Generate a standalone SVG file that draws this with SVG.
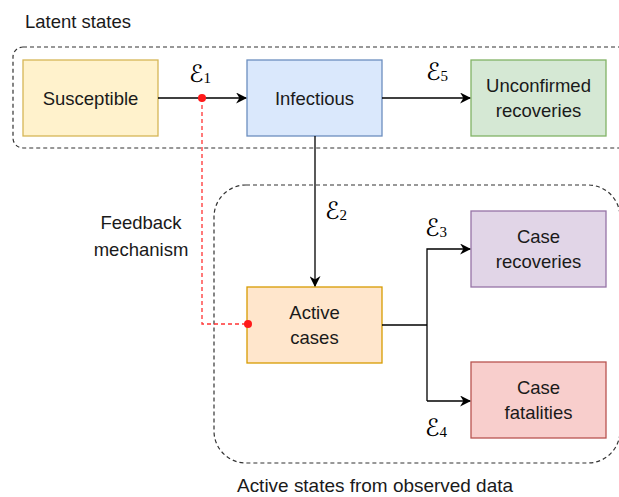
<svg xmlns="http://www.w3.org/2000/svg" width="619" height="497" viewBox="0 0 619 497">
<defs>
<marker id="arr" viewBox="0 0 10 10" refX="9" refY="5" markerWidth="11" markerHeight="11" markerUnits="userSpaceOnUse" orient="auto">
<path d="M0,0 L10,5 L0,10 L3,5 Z" fill="#000"/>
</marker>
<style>
.box{stroke-width:1.3}
.t{font-family:"Liberation Sans",Arial,sans-serif;font-size:18.5px;fill:#1a1a1a;text-anchor:middle}
.lab{font-family:"Liberation Sans",Arial,sans-serif;font-size:18.5px;fill:#1a1a1a}
.eps{font-family:"DejaVu Sans","Liberation Serif",serif;font-size:24px;fill:#000}
.sub{font-size:15px;font-family:"Liberation Serif",serif}
.grp{fill:none;stroke:#333;stroke-width:1.2;stroke-dasharray:4 3}
.edge{fill:none;stroke:#000;stroke-width:1.3}
.fb{fill:none;stroke:#ff3333;stroke-width:1.3;stroke-dasharray:4 3}
</style>
</defs>
<rect width="619" height="497" fill="#fff"/>
<g id="containers">
<rect class="grp" x="13" y="47" width="620" height="101" rx="10"/>
<rect class="grp" x="214" y="185" width="406" height="278" rx="32"/>
<text class="lab" x="25" y="28">Latent states</text>
<text class="lab" x="237" y="492" textLength="276" lengthAdjust="spacingAndGlyphs">Active states from observed data</text>
</g>
<g id="susceptible">
<rect class="box" x="23" y="60" width="135" height="76" fill="#fff2cc" stroke="#d6b656"/>
<text class="t" x="90.5" y="104.5">Susceptible</text>
</g>
<g id="infectious">
<rect class="box" x="247" y="60" width="135" height="76" fill="#dae8fc" stroke="#6c8ebf"/>
<text class="t" x="314.5" y="104.5">Infectious</text>
</g>
<g id="unconfirmed">
<rect class="box" x="471" y="60" width="135" height="76" fill="#d5e8d4" stroke="#82b366"/>
<text class="t" x="538.5" y="92">Unconfirmed</text>
<text class="t" x="538.5" y="117">recoveries</text>
</g>
<g id="active">
<rect class="box" x="247" y="287" width="135" height="76" fill="#ffe6cc" stroke="#d79b00"/>
<text class="t" x="314.5" y="319">Active</text>
<text class="t" x="314.5" y="344">cases</text>
</g>
<g id="recoveries">
<rect class="box" x="471" y="211" width="135" height="76" fill="#e1d5e7" stroke="#9673a6"/>
<text class="t" x="538.5" y="243">Case</text>
<text class="t" x="538.5" y="268">recoveries</text>
</g>
<g id="fatalities">
<rect class="box" x="471" y="362" width="135" height="76" fill="#f8cecc" stroke="#b85450"/>
<text class="t" x="538.5" y="394">Case</text>
<text class="t" x="538.5" y="419">fatalities</text>
</g>
<g id="connectors">
<path class="edge" d="M158,98 H246" marker-end="url(#arr)"/>
<path class="edge" d="M382,98 H470" marker-end="url(#arr)"/>
<path class="edge" d="M315,136 V286" marker-end="url(#arr)"/>
<path class="edge" d="M382,325 H427"/>
<path class="edge" d="M427,401 V249 H470" marker-end="url(#arr)"/>
<path class="edge" d="M427,401 H470" marker-end="url(#arr)"/>
<path class="fb" d="M202,98 V324 H247"/>
<circle cx="202" cy="98" r="4" fill="#ff1a1a"/>
<circle cx="248" cy="324" r="4" fill="#ff1a1a"/>
<text class="eps" x="189" y="82">ℰ<tspan class="sub" dy="1">1</tspan></text>
<text class="eps" x="426" y="80">ℰ<tspan class="sub" dy="1">5</tspan></text>
<text class="eps" x="325" y="219">ℰ<tspan class="sub" dy="1">2</tspan></text>
<text class="eps" x="425" y="236">ℰ<tspan class="sub" dy="1">3</tspan></text>
<text class="eps" x="425" y="436">ℰ<tspan class="sub" dy="1">4</tspan></text>
<text class="t" x="141" y="229">Feedback</text>
<text class="t" x="141" y="256">mechanism</text>
</g>
</svg>
